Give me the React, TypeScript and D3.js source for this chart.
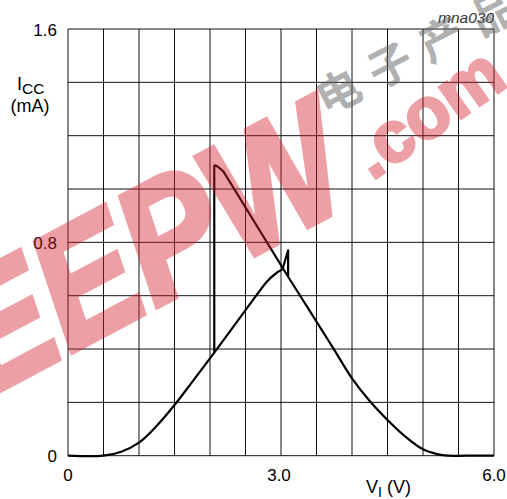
import { useEffect, useRef } from 'react';
import * as d3 from 'd3';

// supply current vs input voltage (hysteresis loop)
const riseV = [0, 0.5, 0.75, 1.0, 1.25, 1.5, 1.75, 2.0, 2.25, 2.5, 2.7, 2.8, 2.94, 3.02];
const riseI = [0, 0, 0.015, 0.049, 0.112, 0.19, 0.277, 0.365, 0.455, 0.546, 0.618, 0.652, 0.686, 0.698];

const spikeV = [3.02, 3.1, 3.1];
const spikeI = [0.698, 0.77, 0.671];

const fallV = [3.1, 3.5, 3.75, 4.0, 4.25, 4.5, 4.75, 5.0, 5.2, 5.35, 5.6, 6.0];
const fallI = [0.671, 0.503, 0.397, 0.29, 0.205, 0.134, 0.072, 0.024, 0.006, 0, 0, 0];

const upperV = [3.1, 2.19, 2.14, 2.1, 2.07, 2.06, 2.06];
const upperI = [0.671, 1.065, 1.077, 1.085, 1.089, 1.087, 0.39];

const yTicks = [0, 0.8, 1.6];
const yTickLabels = ['0', '0.8', '1.6'];
const xTicks = [0, 3, 6];
const xTickLabels = ['0', '3.0', '6.0'];

const width = 507;
const height = 499;
const font = 'Liberation Sans, Arial, Helvetica, sans-serif';

const App = () => {
  const svgRef = useRef<SVGSVGElement | null>(null);

  useEffect(() => {
    if (!svgRef.current) return;
    const svg = d3.select(svgRef.current);
    svg.selectAll('*').remove();

    const x = d3.scaleLinear().domain([0, 6]).range([68, 494]);
    const y = d3.scaleLinear().domain([0, 1.6]).range([455.7, 29]);

    // grid
    const g = svg.append('g');
    g.selectAll('line.vgrid')
      .data(d3.range(0, 12.5, 1).map(i => i * 0.5))
      .enter()
      .append('line')
      .attr('x1', d => x(d)).attr('x2', d => x(d))
      .attr('y1', y(0)).attr('y2', y(1.6))
      .attr('stroke', '#111').attr('stroke-width', 1);
    g.selectAll('line.hgrid')
      .data(d3.range(0, 8.5, 1).map(i => i * 0.2))
      .enter()
      .append('line')
      .attr('x1', x(0)).attr('x2', x(6))
      .attr('y1', d => y(d)).attr('y2', d => y(d))
      .attr('stroke', '#111').attr('stroke-width', 1);

    // curves
    const smooth = d3.line<number>()
      .curve(d3.curveCatmullRom.alpha(0.5));
    const straight = d3.line<number>();

    const draw = (vs: number[], is: number[], gen: typeof smooth) => {
      const pts: [number, number][] = vs.map((v, k) => [x(v), y(is[k])]);
      svg.append('path')
        .attr('d', gen(pts as any) as string)
        .attr('fill', 'none')
        .attr('stroke', '#000')
        .attr('stroke-width', 2.2)
        .attr('stroke-linejoin', 'round');
    };
    draw(riseV, riseI, smooth);
    draw(spikeV, spikeI, straight);
    draw(fallV, fallI, smooth);
    draw(upperV, upperI, straight);

    // tick labels
    svg.selectAll('text.ytick')
      .data(yTicks)
      .enter()
      .append('text')
      .attr('x', 57)
      .attr('y', d => y(d) + 6.5)
      .attr('text-anchor', 'end')
      .attr('font-family', font)
      .attr('font-size', 17)
      .text((_, k) => yTickLabels[k]);
    svg.selectAll('text.xtick')
      .data(xTicks)
      .enter()
      .append('text')
      .attr('x', d => x(d) - (d === 3 ? 2 : 0))
      .attr('y', 481)
      .attr('text-anchor', 'middle')
      .attr('font-family', font)
      .attr('font-size', 17)
      .text((_, k) => xTickLabels[k]);

    // axis titles
    const icc = svg.append('text')
      .attr('x', 17).attr('y', 90)
      .attr('font-family', font).attr('font-size', 18);
    icc.append('tspan').text('I');
    icc.append('tspan').attr('dy', 4).attr('font-size', 15.5).text('CC');
    svg.append('text')
      .attr('x', 30).attr('y', 112)
      .attr('text-anchor', 'middle')
      .attr('font-family', font).attr('font-size', 18)
      .text('(mA)');

    const vi = svg.append('text')
      .attr('x', 366).attr('y', 493)
      .attr('font-family', font).attr('font-size', 18);
    vi.append('tspan').text('V');
    vi.append('tspan').attr('dy', 4).attr('font-size', 14).text('I');
    vi.append('tspan').attr('dy', -4).text(' (V)');

    svg.append('text')
      .attr('x', 494).attr('y', 22.5)
      .attr('text-anchor', 'end')
      .attr('font-family', font).attr('font-size', 15.5)
      .attr('font-style', 'italic')
      .attr('fill', '#333')
      .text('mna030');

    // watermark
    svg.append('text')
      .attr('transform', 'translate(-15,398) rotate(-28)')
      .attr('font-family', font)
      .attr('font-weight', 'bold')
      .attr('font-style', 'italic')
      .attr('font-size', 165)
      .attr('textLength', 425)
      .attr('lengthAdjust', 'spacingAndGlyphs')
      .attr('fill', '#d41f2e')
      .attr('stroke', '#d41f2e')
      .attr('stroke-width', 6)
      .attr('stroke-linejoin', 'miter')
      .attr('opacity', 0.42)
      .text('EEPW');
    svg.append('text')
      .attr('transform', 'translate(372,181) rotate(-35)')
      .attr('font-family', font)
      .attr('font-weight', 'bold')
      .attr('font-size', 72)
      .attr('fill', '#d41f2e')
      .attr('stroke', '#d41f2e')
      .attr('stroke-width', 3)
      .attr('opacity', 0.42)
      .text('.com');
    svg.append('text')
      .attr('transform', 'translate(326,116) rotate(-27)')
      .attr('font-family', 'Noto Sans CJK SC')
      .attr('font-weight', 'bold')
      .attr('font-size', 44)
      .attr('letter-spacing', 14)
      .attr('fill', '#666')
      .attr('opacity', 0.5)
      .text('电子产品世界');
  }, []);

  return (
    <svg
      ref={svgRef}
      width={width}
      height={height}
      style={{ position: 'absolute', left: 0, top: 0, background: '#fff' }}
    ></svg>
  );
};

export default App;
